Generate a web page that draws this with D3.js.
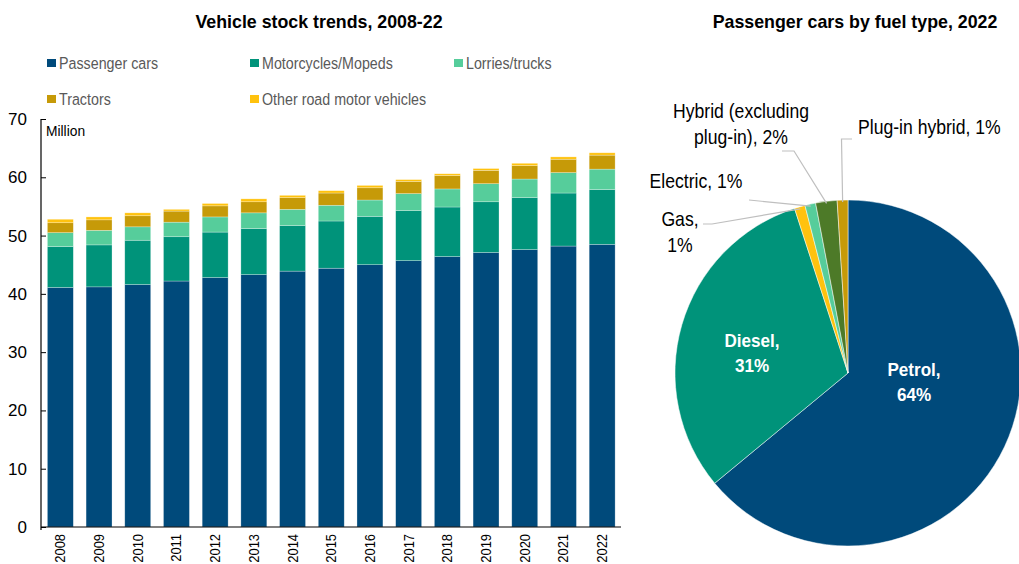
<!DOCTYPE html>
<html>
<head>
<meta charset="utf-8">
<script src="https://cdn.jsdelivr.net/npm/d3@7"></script>
<style>
  html, body { margin: 0; padding: 0; background: #fff; }
  svg { display: block; }
  text { font-family: "Liberation Sans", Arial, sans-serif; }
</style>
</head>
<body>
<svg id="chart" width="1019" height="564"></svg>
<script>
// Vehicle stock (million), 2008-22
const years = ["2008","2009","2010","2011","2012","2013","2014","2015","2016","2017","2018","2019","2020","2021","2022"];
const passengerCars = [41.1, 41.2, 41.6, 42.2, 42.8, 43.3, 43.9, 44.4, 45.0, 45.7, 46.4, 47.1, 47.6, 48.2, 48.5];
const motorcycles   = [7.0, 7.2, 7.6, 7.6, 7.8, 7.9, 7.8, 8.1, 8.3, 8.6, 8.5, 8.7, 8.9, 9.1, 9.4];
const lorries       = [2.4, 2.5, 2.3, 2.5, 2.6, 2.7, 2.8, 2.7, 2.8, 2.9, 3.1, 3.1, 3.2, 3.5, 3.5];
const tractors      = [1.7, 1.8, 1.9, 1.9, 1.9, 1.9, 2.0, 2.1, 2.1, 2.1, 2.3, 2.3, 2.3, 2.3, 2.4];
const otherVehicles = [0.6, 0.5, 0.5, 0.3, 0.4, 0.5, 0.4, 0.4, 0.4, 0.3, 0.3, 0.3, 0.4, 0.4, 0.4];
const seriesNames = ["Passenger cars", "Motorcycles/Mopeds", "Lorries/trucks", "Tractors", "Other road motor vehicles"];
const seriesColors = ["#004a7b", "#00937a", "#56cd9b", "#c69a08", "#ffc20e"];
const yTicks = [0, 10, 20, 30, 40, 50, 60, 70];

// Passenger cars by fuel type, 2022 (%)
const fuelTypes = ["Petrol", "Diesel", "Gas", "Electric", "Hybrid (excluding plug-in)", "Plug-in hybrid"];
const fuelShares = [64, 31, 1, 1, 2, 1];
const fuelColors = ["#004a7b", "#00937a", "#ffc20e", "#56cd9b", "#4d7a28", "#c69a08"];

const svg = d3.select("#chart");

// Condensed text: regular face squeezed horizontally, optionally multi-line
function narrowText(parent, x, y, lines, o) {
  const t = parent.append("text")
    .attr("transform", `translate(${x},${y}) scale(${o.sx || 1},1)`)
    .attr("text-anchor", o.anchor || "start")
    .attr("font-size", o.size)
    .attr("font-weight", o.weight || "normal")
    .attr("fill", o.fill || "#000");
  lines.forEach((s, j) => t.append("tspan").attr("x", 0).attr("y", j * (o.lh || 0)).text(s));
  return t;
}

// ---------- Stacked bar chart ----------
const seriesArrays = [passengerCars, motorcycles, lorries, tractors, otherVehicles];
const rows = years.map((yr, i) => {
  const r = { year: yr };
  seriesNames.forEach((s, k) => r[s] = seriesArrays[k][i]);
  return r;
});
const stacked = d3.stack().keys(seriesNames)(rows);

const x = d3.scaleBand().domain(years).range([41, 621.5]).paddingInner(0.33).paddingOuter(0.165);
const y = d3.scaleLinear().domain([0, 70]).range([527, 119]);

svg.append("text")
  .attr("x", 319).attr("y", 28)
  .attr("text-anchor", "middle")
  .attr("font-size", 17.8).attr("font-weight", "bold")
  .attr("fill", "#000")
  .text("Vehicle stock trends, 2008-22");

// Legend
const legendPos = [[47, 63], [250, 63], [454, 63], [47, 99], [250, 99]];
const legend = svg.append("g");
seriesNames.forEach((s, k) => {
  const [lx, ly] = legendPos[k];
  legend.append("rect").attr("x", lx).attr("y", ly - 4).attr("width", 9).attr("height", 8).attr("fill", seriesColors[k]);
  narrowText(legend, lx + 12, ly + 6, [s], { size: 17, sx: 0.84, fill: "#595959" });
});

// Bars
svg.append("g").selectAll("g")
  .data(stacked)
  .join("g")
  .attr("fill", (d, k) => seriesColors[k])
  .selectAll("rect")
  .data(d => d)
  .join("rect")
  .attr("x", d => x(d.data.year))
  .attr("width", x.bandwidth())
  .attr("y", d => y(d[1]))
  .attr("height", d => y(d[0]) - y(d[1]))
  .attr("stroke", "#ffffff").attr("stroke-opacity", 0.45).attr("stroke-width", 0.6);

// Y axis
const yAxis = d3.axisLeft(y).tickValues(yTicks).tickSize(-5).tickPadding(14).tickFormat(d3.format("d"));
const gy = svg.append("g").attr("transform", "translate(41,0)").call(yAxis);
gy.select(".domain").attr("d", "M0,119V530").attr("stroke", "#000").attr("stroke-width", 1.2);
gy.selectAll(".tick line").attr("stroke", "#000");
gy.selectAll(".tick text").attr("font-size", 17).attr("fill", "#000")
  .style("font-family", '"Liberation Sans", Arial, sans-serif');

narrowText(svg, 46, 136, ["Million"], { size: 15, sx: 0.92 });

// X axis
const xAxis = d3.axisBottom(x).tickSize(0).tickPadding(0);
const gx = svg.append("g").attr("transform", "translate(0,527)").call(xAxis);
gx.select(".domain").attr("d", "M41,0H621").attr("stroke", "#000").attr("stroke-width", 1.2);
gx.selectAll(".tick text")
  .attr("transform", "translate(5,7) rotate(-90) scale(0.86,1)")
  .attr("text-anchor", "end")
  .attr("dy", 0).attr("y", 0).attr("x", 0)
  .attr("font-size", 15).attr("fill", "#000")
  .style("font-family", '"Liberation Sans", Arial, sans-serif');

// ---------- Pie chart ----------
svg.append("text")
  .attr("x", 855).attr("y", 28)
  .attr("text-anchor", "middle")
  .attr("font-size", 17.8).attr("font-weight", "bold")
  .attr("fill", "#000")
  .text("Passenger cars by fuel type, 2022");

const cx = 848, cy = 373, radius = 173;
const pie = d3.pie().sort(null).value(d => d.share);
const fuelData = fuelTypes.map((f, i) => ({ name: f, share: fuelShares[i], color: fuelColors[i] }));
const arcs = pie(fuelData);
const arc = d3.arc().innerRadius(0).outerRadius(radius);

const gp = svg.append("g").attr("transform", `translate(${cx},${cy})`);
gp.selectAll("path")
  .data(arcs)
  .join("path")
  .attr("d", arc)
  .attr("fill", d => d.data.color)
  .attr("stroke", "#ffffff").attr("stroke-width", 0.7).attr("stroke-opacity", 0.7);

// Labels inside the two large slices
const pieLabel = d => `${d.data.name}, ${d.data.share}%`;
narrowText(svg, 752, 347, [fuelTypes[1] + ",", fuelShares[1] + "%"], { size: 19, sx: 0.9, weight: "bold", fill: "#fff", anchor: "middle", lh: 25 });
narrowText(svg, 914, 376, [fuelTypes[0] + ",", fuelShares[0] + "%"], { size: 19, sx: 0.9, weight: "bold", fill: "#fff", anchor: "middle", lh: 25 });

// Outside labels with leader lines from slice edges
const arcEdge = d3.arc().innerRadius(radius - 2).outerRadius(radius - 2);
const outside = [
  { i: 2, lines: ["Gas,", "1%"], tx: 680, ty: 226, anchor: "middle", path: [[712, 224], [703, 224]] },
  { i: 3, lines: ["Electric, 1%"], tx: 696, ty: 188, anchor: "middle", path: [[749, 200]] },
  { i: 4, lines: ["Hybrid (excluding", "plug-in), 2%"], tx: 741, ty: 118, anchor: "middle", path: [[794, 151], [782, 151]] },
  { i: 5, lines: ["Plug-in hybrid, 1%"], tx: 858, ty: 134, anchor: "start", path: [[841.5, 139], [852, 139]] }
];
outside.forEach(l => {
  const c = arcEdge.centroid(arcs[l.i]);
  const pts = [[cx + c[0], cy + c[1]]].concat(l.path);
  svg.append("path").attr("d", d3.line()(pts)).attr("fill", "none")
    .attr("stroke", "#bfbfbf").attr("stroke-width", 1.2);
  narrowText(svg, l.tx, l.ty, l.lines, { size: 20, sx: 0.88, anchor: l.anchor, lh: 26 });
});
</script>
</body>
</html>
